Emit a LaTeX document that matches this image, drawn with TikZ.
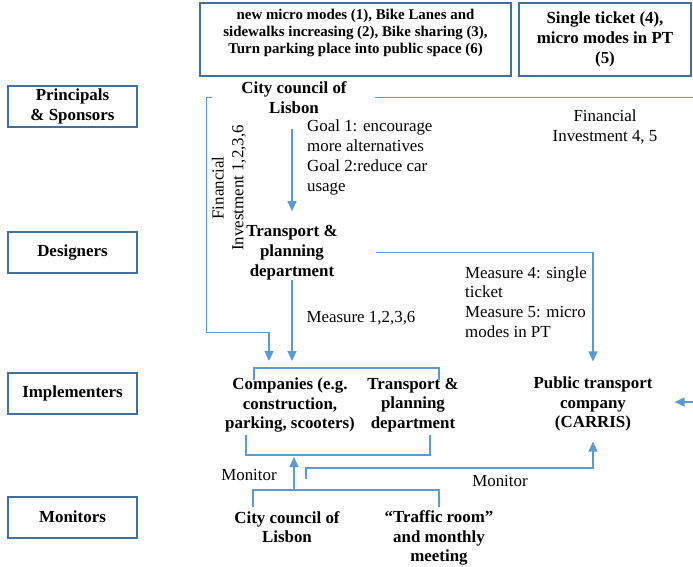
\documentclass[tikz,border=0pt]{standalone}
\usepackage{fontspec}
\setmainfont{Liberation Serif}
\usetikzlibrary{arrows.meta}
\definecolor{boxblue}{HTML}{41719C}
\definecolor{lineblue}{HTML}{5B9BD5}

\begin{document}
\fontsize{16.9pt}{19.7pt}\selectfont
\begin{tikzpicture}[x=1pt, y=-1pt,
    every node/.style={inner sep=0pt, align=center},
    rolebox/.style={draw=boxblue, line width=2pt, minimum width=129pt, minimum height=41pt, font=\bfseries},
    topbox/.style={draw=boxblue, line width=2pt, minimum height=73pt, font=\bfseries},
    actor/.style={font=\bfseries},
    link/.style={draw=lineblue, line width=1.2pt},
    arr/.style={link, -{Triangle[width=9pt,length=10pt]}}]
    \useasboundingbox (0,0) rectangle (693,566);

    % roles on the left
    \node[rolebox] (principals) at (72.5,106.5) {Principals\\\& Sponsors};
    \node[rolebox] (designers) at (72.5,252.5) {Designers};
    \node[rolebox] (implementers) at (72.5,393) {Implementers};
    \node[rolebox] (monitors) at (72.5,517) {Monitors};

    % measures on top
    \node[topbox, minimum width=311pt] (measLocalBox) at (355.5,39.5) {};
    \node[font=\fontsize{14.9pt}{17pt}\selectfont\bfseries] (measLocalTxt) at (355.5,33) {new micro modes (1), Bike Lanes and\\sidewalks increasing (2), Bike sharing (3),\\Turn parking place into public space (6)};
    \node[topbox, minimum width=172pt] (measPTBox) at (605,39.5) {Single ticket (4),\\micro modes in PT\\(5)};

    % actors
    \node[actor] (council) at (294,97.5) {City council of\\Lisbon};
    \node[actor] (tpd) at (292,252.5) {Transport \&\\planning\\department};
    \node[actor] (firms) at (290,405) {Companies (e.g.\\construction,\\parking, scooters)};
    \node[actor] (tpdImpl) at (413,405) {Transport \&\\planning\\department};
    \node[actor] (carris) at (593,404) {Public transport\\company\\(CARRIS)};
    \node[actor] (councilMon) at (287,527) {City council of\\Lisbon};
    \node[actor] (traffic) at (439,538) {“Traffic room”\\and monthly\\meeting};

    % labels on the links
    \node[anchor=west, align=left] (goals) at (307,157.5) {Goal 1: encourage\\more alternatives\\Goal 2:reduce car\\usage};
    \node[rotate=90] (finLocal) at (229,188) {Financial\\Investment 1,2,3,6};
    \node (finPT) at (605,127) {Financial\\Investment 4, 5};
    \node (measLocal) at (361,318) {Measure 1,2,3,6};
    \node[anchor=west, align=left] (measPT) at (465,302) {Measure 4: single\\ticket\\Measure 5: micro\\modes in PT};
    \node (monLocal) at (249,475) {Monitor};
    \node (monPT) at (500,481) {Monitor};

    % free ends and bracket corners
    \coordinate (rightTop) at (693,97);
    \coordinate (rightIn) at (693,402);
    \coordinate (finEnd) at (269,368);
    \coordinate (implTopL) at (254,368); \coordinate (implTopR) at (439,368);
    \coordinate (implBotL) at (246,455); \coordinate (implBotR) at (430,455);
    \coordinate (monTopL) at (253,490); \coordinate (monTopR) at (439,490);
    \coordinate (monJoin) at (294,490);
    \coordinate (monStart) at (306,479);

    % brackets
    \draw[link] ([yshift=-12pt]implTopL) -- (implTopL) -- (implTopR) -- ([yshift=-12pt]implTopR);
    \draw[link] ([yshift=20pt]implBotL) -- (implBotL) -- (implBotR) -- ([yshift=20pt]implBotR);
    \draw[link] ([yshift=-17pt]monTopL) -- (monTopL) -- (monTopR) -- ([yshift=-17pt]monTopR);

    % links
    \draw[link, shorten <=28pt] (council.east) -- (council.east -| rightTop);
    \draw[arr, shorten >=7pt] ([xshift=-29pt]council.west) -- ++(-6,0) -- ++(0,235) -| (finEnd);
    \draw[arr, shorten <=15pt, shorten >=14pt] (council.south -| tpd.north) -- (tpd.north);
    \draw[arr, shorten >=7pt] (tpd.south) -- (tpd.south |- implTopL);
    \draw[arr, shorten <=38pt, shorten >=15pt] (tpd.east) -| (carris.north);
    \draw[arr, shorten >=2pt] (monJoin) -- (monJoin |- implBotL);
    \draw[arr, shorten >=10pt] (monStart) -- ++(0,-11) -| (carris.south);
    \draw[arr, shorten >=22pt] (rightIn) -- (rightIn -| carris.east);
\end{tikzpicture}
\end{document}
